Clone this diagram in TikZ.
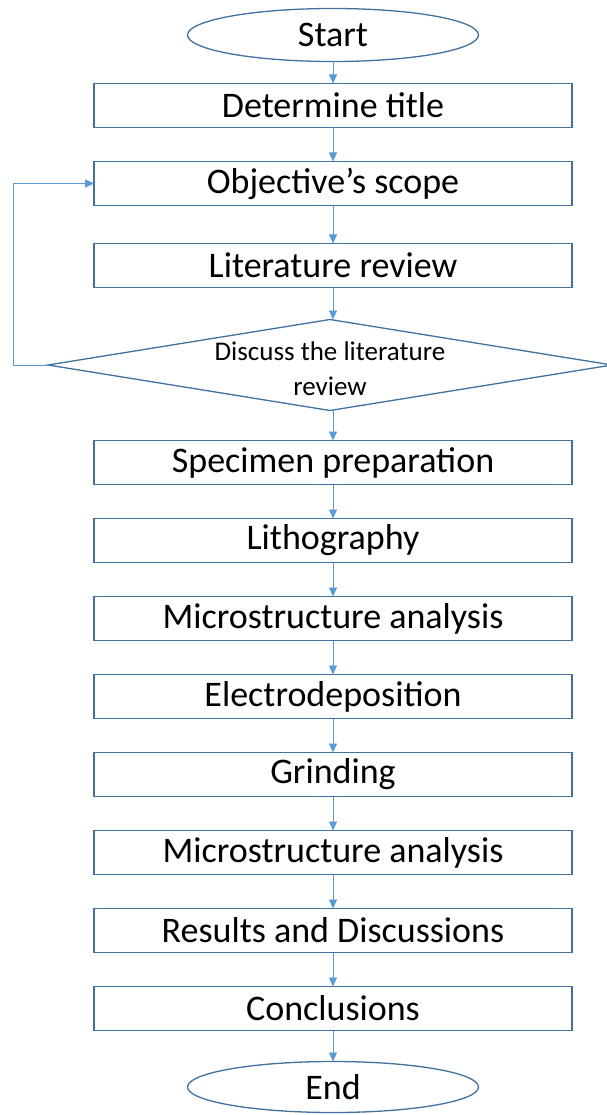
\documentclass[tikz,border=0pt]{standalone}
\usepackage{fontspec}
\setmainfont{Carlito}
\usetikzlibrary{arrows.meta, positioning, shapes.geometric}
\definecolor{boxline}{HTML}{41719C}
\definecolor{flowblue}{HTML}{5B9BD5}

\begin{document}
\begin{tikzpicture}[
    x=1pt, y=1pt,
    node distance=34pt,
    every node/.style={outer sep=0pt},
    box/.style={
        rectangle, draw=boxline, line width=1.3pt, fill=white,
        minimum width=478pt, minimum height=44pt, inner sep=0pt,
        font=\fontsize{36}{40}\selectfont, text=black
    },
    terminal/.style={
        ellipse, draw=boxline, line width=1.3pt, fill=white,
        minimum width=291pt, minimum height=53pt, inner sep=0pt,
        font=\fontsize{36}{40}\selectfont, text=black
    },
    decision/.style={
        diamond, draw=boxline, line width=1.3pt, fill=white,
        minimum width=564pt, minimum height=91pt, inner sep=0pt
    },
    flow/.style={-{Triangle[length=9pt, width=8pt]}, line width=0.9pt, flowblue},
]
\useasboundingbox (0,0) rectangle (606,-1115);

% Nodes
\node[terminal] (start) at (333,-35) {Start};
\node[box, below=22pt of start] (title) {Determine title};
\node[box, below=of title] (scope) {Objective’s scope};
\node[box, below=38pt of scope] (litrev) {Literature review};
\node[decision, below=32pt of litrev, xshift=-3pt] (discuss) {};
\node[font=\fontsize{27}{35}\selectfont, align=center, text=black, yshift=-4pt]
    (discusstext) at (discuss.center) {Discuss the literature\\review};
\node[box, below=30pt of discuss, xshift=3pt] (specimen) {Specimen preparation};
\node[box, below=of specimen] (litho) {Lithography};
\node[box, below=of litho] (micro1) {Microstructure analysis};
\node[box, below=of micro1] (electro) {Electrodeposition};
\node[box, below=of electro] (grind) {Grinding};
\node[box, below=of grind] (micro2) {Microstructure analysis};
\node[box, below=of micro2] (results) {Results and Discussions};
\node[box, below=of results] (concl) {Conclusions};
\node[terminal, below=31pt of concl, minimum height=51pt] (end) {End};

% Main flow
\draw[flow] (start) -- (title);
\draw[flow] (title) -- (scope);
\draw[flow] (scope) -- (litrev);
\draw[flow] (litrev.south) -- (litrev.south |- discuss.north);
\draw[flow] (litrev.south |- discuss.south) -- (specimen.north);
\draw[flow] (specimen) -- (litho);
\draw[flow] (litho) -- (micro1);
\draw[flow] (micro1) -- (electro);
\draw[flow] (electro) -- (grind);
\draw[flow] (grind) -- (micro2);
\draw[flow] (micro2) -- (results);
\draw[flow] (results) -- (concl);
\draw[flow] (concl) -- (end);

% Feedback loop: review back to scope
\draw[flow] (discuss.west) -- ++(-35pt,0) |- (scope.west);

\end{tikzpicture}
\end{document}
